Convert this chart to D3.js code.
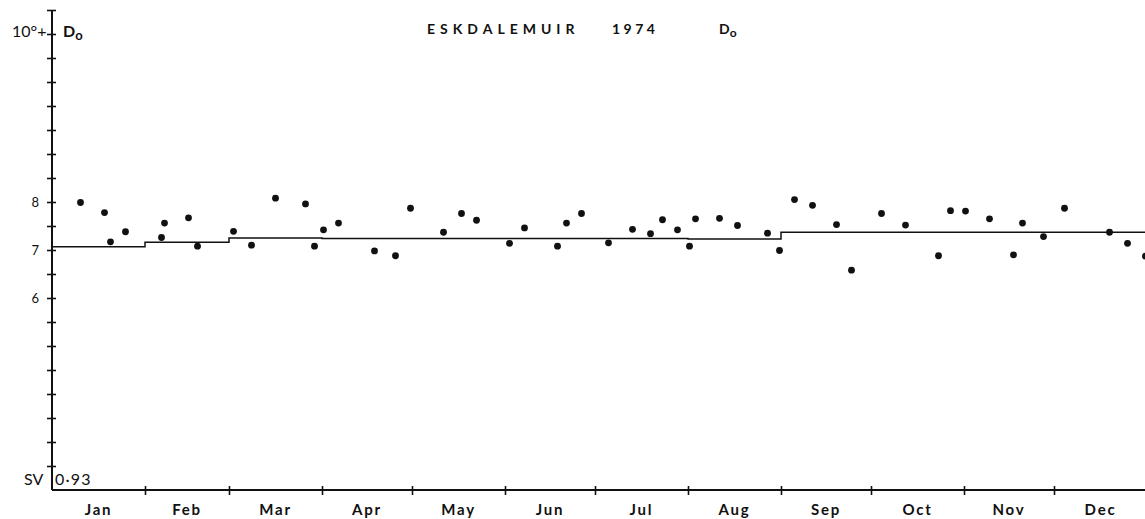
<!DOCTYPE html>
<html>
<head>
<meta charset="utf-8">
<script src="https://cdn.jsdelivr.net/npm/d3@7"></script>
<style>
  body { margin: 0; background: #fff; }
  svg text { font-family: Lato, "DejaVu Sans", sans-serif; fill: #111; }
</style>
</head>
<body>
<div id="chart"></div>
<script>
// month names along the bottom
var months = ["Jan", "Feb", "Mar", "Apr", "May", "Jun", "Jul", "Aug", "Sep", "Oct", "Nov", "Dec"];
// monthly mean of D, drawn as a step line
var monthMeans = [7.07, 7.16, 7.25, 7.24, 7.24, 7.24, 7.24, 7.23, 7.37, 7.37, 7.37, 7.37];
// day of year of each plotted day, and its value
var dayOfYear = [10, 18, 20, 25, 37, 38, 46, 49, 61, 67, 75, 85, 88, 91, 96, 108, 115, 120,
  131, 137, 142, 153, 158, 169, 172, 177, 186, 194, 200, 204, 209, 213, 215, 223, 229, 239,
  243, 248, 254, 262, 267, 277, 285, 296, 300, 305, 313, 321, 324, 331, 338, 353, 359, 365];
var dValues = [7.99, 7.78, 7.17, 7.38, 7.26, 7.56, 7.67, 7.08, 7.39, 7.10, 8.08, 7.96, 7.08, 7.42,
  7.56, 6.98, 6.88, 7.87, 7.37, 7.76, 7.62, 7.14, 7.46, 7.08, 7.56, 7.76, 7.15, 7.43, 7.34,
  7.63, 7.42, 7.08, 7.65, 7.66, 7.51, 7.35, 6.99, 8.05, 7.93, 7.53, 6.58, 7.76, 7.52, 6.88,
  7.82, 7.81, 7.65, 6.90, 7.56, 7.28, 7.87, 7.37, 7.14, 6.87];
// y tick labels
var yLabelValues = [6, 7, 8];

var width = 1145, height = 519;
var year = 1974;

var svg = d3.select("#chart").append("svg")
  .attr("width", width)
  .attr("height", height);

var x = d3.scaleTime()
  .domain([new Date(year, 0, 1), new Date(year + 1, 0, 1)])
  .range([52, 1147]);

var y = d3.scaleLinear()
  .domain([2, 12])
  .range([490, 10]);

// y axis, ticks every half unit crossing the line
var yTicks = d3.range(2.5, 12.01, 0.5);
var yAxis = svg.append("g")
  .attr("transform", `translate(${x.range()[0]},0)`)
  .call(d3.axisLeft(y).tickValues(yTicks).tickSize(4).tickPadding(9)
    .tickFormat(d => yLabelValues.includes(d) ? d : ""));
yAxis.select(".domain").remove();
yAxis.selectAll(".tick line").attr("x1", -5).attr("x2", 4).attr("stroke", "#111").attr("stroke-width", 1.6);
yAxis.selectAll(".tick text").attr("font-size", 13).attr("fill", "#111");
svg.append("line")
  .attr("x1", x.range()[0]).attr("x2", x.range()[0])
  .attr("y1", y(12)).attr("y2", y(2))
  .attr("stroke", "#111").attr("stroke-width", 2);

// x axis with month boundaries
var monthStarts = months.map((m, i) => new Date(year, i, 1));
var xAxis = svg.append("g")
  .attr("transform", `translate(0,${y(2)})`)
  .call(d3.axisBottom(x).tickValues(monthStarts.slice(1)).tickSize(4).tickFormat(""));
xAxis.select(".domain").remove();
xAxis.selectAll(".tick line").attr("y1", -4).attr("y2", 5).attr("stroke", "#111").attr("stroke-width", 1.6);
svg.append("line")
  .attr("x1", x.range()[0]).attr("x2", width)
  .attr("y1", y(2)).attr("y2", y(2))
  .attr("stroke", "#111").attr("stroke-width", 1.8);

svg.selectAll(".month")
  .data(months)
  .join("text")
  .attr("class", "month")
  .attr("x", (d, i) => (x(monthStarts[i]) + x(new Date(year, i + 1, 1))) / 2)
  .attr("y", 515)
  .attr("text-anchor", "middle")
  .attr("font-size", 15)
  .attr("font-weight", 700)
  .attr("letter-spacing", 1.8)
  .text(d => d);

// monthly mean step line
var stepData = monthMeans.map((v, i) => [monthStarts[i], v]);
stepData.push([new Date(year + 1, 0, 1), monthMeans[11]]);
svg.append("path")
  .datum(stepData)
  .attr("fill", "none")
  .attr("stroke", "#111")
  .attr("stroke-width", 1.5)
  .attr("d", d3.line().x(d => x(d[0])).y(d => y(d[1])).curve(d3.curveStepAfter));

// daily values
svg.selectAll(".dot")
  .data(dayOfYear)
  .join("circle")
  .attr("class", "dot")
  .attr("cx", d => x(new Date(year, 0, d, 12)))
  .attr("cy", (d, i) => y(dValues[i]))
  .attr("r", 3.4)
  .attr("fill", "#111");

// labels
svg.append("text")
  .attr("x", 12).attr("y", 37)
  .attr("font-size", 16)
  .text("10°+");
svg.append("text")
  .attr("x", 63).attr("y", 37)
  .attr("font-size", 16)
  .attr("font-weight", 700)
  .html('D<tspan dy="3" font-size="13">o</tspan>');

svg.append("text")
  .attr("x", 427).attr("y", 34)
  .attr("font-size", 14)
  .attr("font-weight", 700)
  .attr("letter-spacing", 5)
  .text("ESKDALEMUIR");
svg.append("text")
  .attr("x", 612).attr("y", 34)
  .attr("font-size", 14)
  .attr("font-weight", 700)
  .attr("letter-spacing", 3.5)
  .text("1974");
svg.append("text")
  .attr("x", 719).attr("y", 34)
  .attr("font-size", 14)
  .attr("font-weight", 700)
  .html('D<tspan dy="3" font-size="12">o</tspan>');

svg.append("text")
  .attr("x", 24).attr("y", 485)
  .attr("font-size", 16)
  .text("SV");
svg.append("text")
  .attr("x", 55).attr("y", 485)
  .attr("font-size", 16)
  .attr("letter-spacing", 1.2)
  .text("0·93");
</script>
</body>
</html>
